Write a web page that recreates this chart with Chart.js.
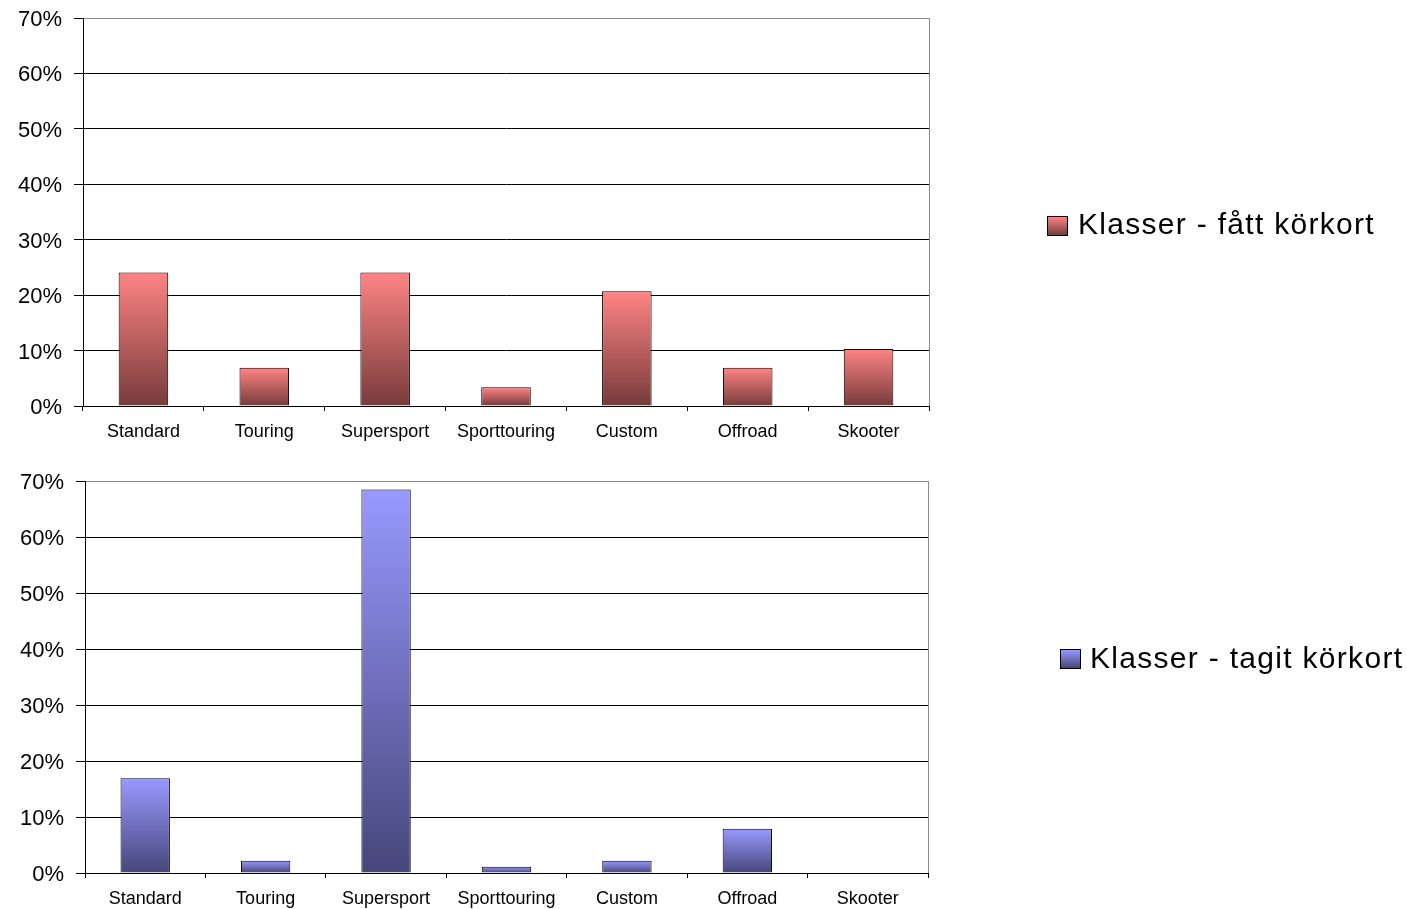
<!DOCTYPE html>
<html>
<head>
<meta charset="utf-8">
<script src="https://cdn.jsdelivr.net/npm/chart.js@4/dist/chart.umd.min.js"></script>
<style>
  html, body { margin: 0; padding: 0; background: #fff; }
  body { width: 1407px; height: 909px; position: relative; overflow: hidden; font-family: 'Liberation Sans', Arial, sans-serif; }
  .panel { position: absolute; left: 0; }
  .swatch { position: absolute; box-sizing: border-box; width: 21px; height: 20px; border: 1px solid #000; }
  .legend-text { position: absolute; font-size: 30px; line-height: 30px; letter-spacing: 1.3px; color: #000; white-space: nowrap; }
</style>
</head>
<body>
<div class="panel" style="top:-12px"><canvas id="chartTop" width="1407" height="460"></canvas></div>
<div class="panel" style="top:451px"><canvas id="chartBottom" width="1407" height="458"></canvas></div>

<!-- legends -->
<div class="swatch" style="left:1047px;top:216px;background:linear-gradient(#ff8484,#773b3b)"></div>
<div class="legend-text" style="left:1078px;top:209px">Klasser - fått körkort</div>
<div class="swatch" style="left:1060px;top:649px;background:linear-gradient(#9999ff,#46467a)"></div>
<div class="legend-text" style="left:1090px;top:643px">Klasser - tagit körkort</div>

<script>
const categories = ['Standard', 'Touring', 'Supersport', 'Sporttouring', 'Custom', 'Offroad', 'Skooter'];
const fattKorkort = [24.1, 6.9, 24.1, 3.4, 20.7, 6.9, 10.3];
const tagitKorkort = [16.9, 2.2, 68.5, 1.1, 2.2, 7.9, 0];
const yTicks = [0, 10, 20, 30, 40, 50, 60, 70];

const FONT = "'Liberation Sans', Arial, sans-serif";

// per-bar vertical gradient, light at the top and dark at the base
function barFill(light, dark) {
    return (ctx) => {
        const chart = ctx.chart;
        if (!chart.chartArea || ctx.type !== 'data') return light;
        const y = chart.scales.y;
        const y0 = y.getPixelForValue(0);
        const y1 = y.getPixelForValue(ctx.parsed.y);
        if (y0 - y1 < 1) return light;
        const g = chart.ctx.createLinearGradient(0, y1, 0, y0);
        g.addColorStop(0, light);
        g.addColorStop(1, dark);
        return g;
    };
}

// gray right edge of the plot area
const plotFrame = {
    id: 'plotFrame',
    beforeDatasetsDraw(chart) {
        const { ctx, chartArea } = chart;
        ctx.save();
        ctx.strokeStyle = '#8c8c8c';
        ctx.lineWidth = 1;
        ctx.beginPath();
        ctx.moveTo(Math.round(chartArea.right) + 0.5, chartArea.top);
        ctx.lineTo(Math.round(chartArea.right) + 0.5, chartArea.bottom);
        ctx.stroke();
        ctx.restore();
    }
};

function makeChart(id, values, label, light, dark, box) {
    return new Chart(document.getElementById(id), {
        type: 'bar',
        data: {
            labels: categories,
            datasets: [{
                label: label,
                data: values,
                backgroundColor: barFill(light, dark),
                borderColor: '#000',
                borderWidth: 1,
                borderSkipped: 'bottom',
                barPercentage: 0.41,
                categoryPercentage: 1
            }]
        },
        options: {
            responsive: false,
            animation: false,
            layout: { padding: { top: 30, right: box.right, left: 0, bottom: 0 } },
            plugins: { legend: { display: false }, tooltip: { enabled: false } },
            scales: {
                x: {
                    offset: true,
                    grid: { drawOnChartArea: false, drawTicks: true, tickLength: 5, color: '#000', offset: true },
                    border: { color: '#000', width: 1 },
                    ticks: { color: '#000', padding: box.xPad, font: { family: FONT, size: 18 }, maxRotation: 0 },
                    afterFit(scale) { scale.height = box.xHeight; }
                },
                y: {
                    min: 0,
                    max: 70,
                    afterBuildTicks(scale) { scale.ticks = yTicks.map(v => ({ value: v })); },
                    grid: {
                        color: (c) => (c.tick && c.tick.value === 70 ? '#8c8c8c' : '#000'),
                        tickColor: '#000',
                        tickLength: 9
                    },
                    border: { color: '#000', width: 1 },
                    ticks: {
                        color: '#000',
                        padding: 12,
                        labelOffset: 2,
                        font: { family: FONT, size: 22 },
                        callback: (v) => v + '%'
                    },
                    afterFit(scale) { scale.width = box.left; }
                }
            }
        },
        plugins: [plotFrame]
    });
}

makeChart('chartTop', fattKorkort, 'Klasser - fått körkort', '#ff8484', '#773b3b',
    { right: 478, left: 83, xHeight: 42, xPad: 10 });
makeChart('chartBottom', tagitKorkort, 'Klasser - tagit körkort', '#9999ff', '#46467a',
    { right: 479, left: 85, xHeight: 36, xPad: 10 });
</script>
</body>
</html>
